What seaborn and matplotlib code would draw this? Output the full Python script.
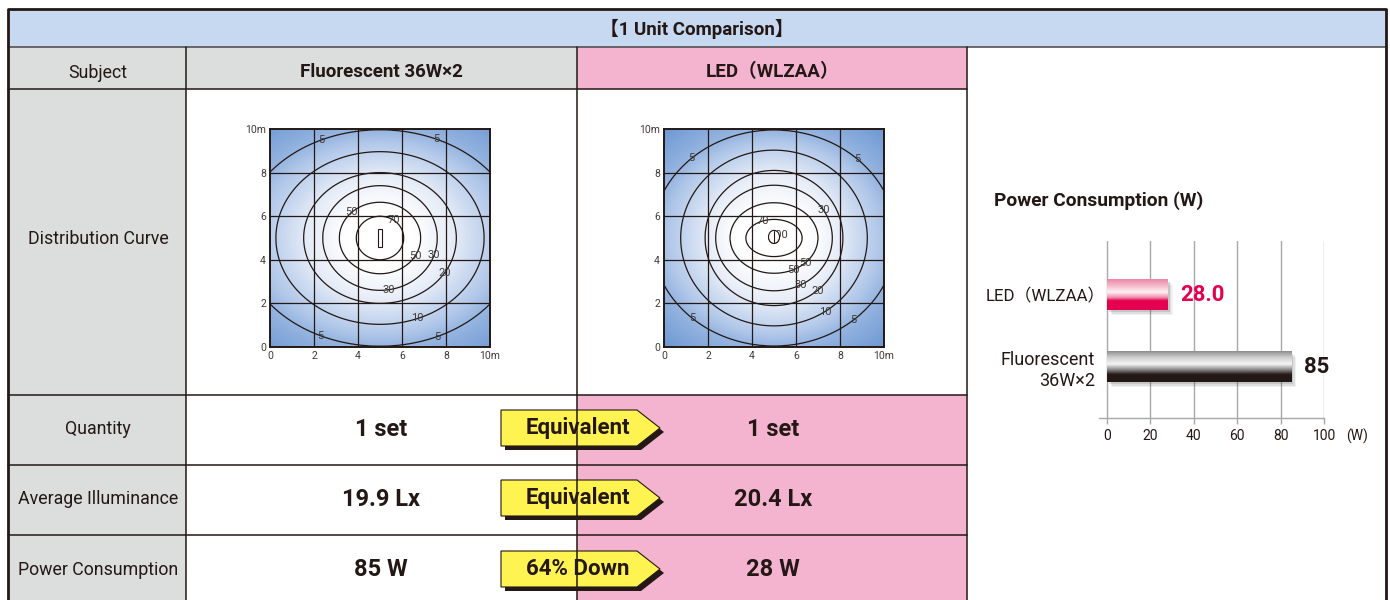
import numpy as np
import pandas as pd
import matplotlib
matplotlib.use('Agg')
import matplotlib.pyplot as plt
import matplotlib.transforms as mtrans
import seaborn as sns
from matplotlib.patches import Rectangle, Polygon, Ellipse
from matplotlib.colors import LinearSegmentedColormap, Normalize


# table contents
title = '【1 Unit Comparison】'
row_labels = ['Subject', 'Distribution Curve', 'Quantity',
              'Average Illuminance', 'Power Consumption']
subjects = ['Fluorescent 36W×2', 'LED（WLZAA）']
quantity = ['1 set', '1 set']
illuminance = [19.9, 20.4]   # Lx
power = [85, 28]             # W
arrow_texts = ['Equivalent', 'Equivalent', '64% Down']

# distribution curves: iso-lux levels and half axes (m)
fl_levels = [70, 50, 30, 20, 10, 5]
fl_half_x = [1.08, 1.85, 2.6, 3.47, 4.73, 6.3]
fl_half_y = [1.0, 1.64, 2.4, 3.0, 3.96, 4.96]
led_levels = [100, 70, 50, 30, 20, 10, 5]
led_half_x = [0.22, 1.28, 2.0, 2.65, 3.13, 4.24, 5.55]
led_half_y = [0.24, 0.85, 1.62, 2.42, 3.1, 4.03, 4.95]
curve_ticks = [0, 2, 4, 6, 8, 10]
curve_ticklabels = ['0', '2', '4', '6', '8', '10m']

# bar chart
bar_title = 'Power Consumption (W)'
bar_names = ['LED（WLZAA）', 'Fluorescent\n36W×2']
bar_watts = [28.0, 85]
bar_texts = ['28.0', '85']
bar_ticks = [0, 20, 40, 60, 80, 100]

INK = '#231815'
PINK = '#f4b4cf'
GRAY = '#dcdddd'
BLUE = '#c6d9f0'


def lux_field(levels, half_x, half_y, n=301):
    g = np.linspace(0, 10, n)
    X, Y = np.meshgrid(g, g)
    dx, dy = X - 5, Y - 5
    r = np.hypot(dx, dy)
    th = np.arctan2(dy, dx)
    a = np.array(half_x)[:, None, None]
    b = np.array(half_y)[:, None, None]
    # radius of every iso-lux ellipse in the direction of each grid point
    ri = a * b / np.sqrt((b * np.cos(th))**2 + (a * np.sin(th))**2)
    lv = np.log(np.array(levels, float))
    ri = np.concatenate([np.zeros((1,) + r.shape), ri, ri[-1:] * 1.5], axis=0)
    lv = np.concatenate([[lv[0] + 0.3], lv, [lv[-1] - 0.9]])
    k = np.clip((ri <= r).sum(axis=0) - 1, 0, len(lv) - 2)
    r0 = np.take_along_axis(ri, k[None], 0)[0]
    r1 = np.take_along_axis(ri, (k + 1)[None], 0)[0]
    t = np.clip((r - r0) / (r1 - r0), 0, None)
    return g, np.exp(lv[k] + t * (lv[k + 1] - lv[k]))


sns.set_theme(style='white')
plt.rcParams['font.family'] = ['Roboto', 'Noto Sans CJK JP', 'DejaVu Sans']
plt.rcParams['text.color'] = INK

W, H = 1390, 600
fig = plt.figure(figsize=(13.9, 6.0), dpi=100)

# ---- table background, in pixel coordinates
bg = fig.add_axes([0, 0, 1, 1])
bg.set_xlim(0, W)
bg.set_ylim(H, 0)
bg.axis('off')

col_x = [8, 186, 577, 967, 1386]
row_y = [47, 89, 395, 465, 535, 600]
bg.add_patch(Rectangle((8, 9), 1378, 38, fc=BLUE, ec='none'))
bg.add_patch(Rectangle((8, 47), 178, 553, fc=GRAY, ec='none'))
bg.add_patch(Rectangle((186, 47), 391, 42, fc=GRAY, ec='none'))
bg.add_patch(Rectangle((577, 47), 390, 42, fc=PINK, ec='none'))
bg.add_patch(Rectangle((577, 395), 390, 205, fc=PINK, ec='none'))

lw_in = 1.1
bg.plot([8, 1386], [47, 47], color='#4a4546', lw=lw_in)
for y in row_y[1:5]:
    bg.plot([8, 967], [y, y], color=INK, lw=lw_in)
for x in col_x[1:4]:
    bg.plot([x, x], [47, 600], color=INK, lw=lw_in)
bg.plot([8, 8, 1386, 1386], [600, 9, 9, 600], color=INK, lw=2.0)

bg.text(697, 29, title, ha='center', va='center', fontsize=13.5,
        fontweight='bold')
centers_y = [72, 238, 428, 498, 569]
for lab, y in zip(row_labels, centers_y):
    bg.text(98, y + 1, lab, ha='center', va='center', fontsize=12.8)
col_cx = [381, 773]
for i, s in enumerate(subjects):
    bg.text(col_cx[i], 72, s, ha='center', va='center', fontsize=13.5,
            fontweight='bold')
    vals = [quantity[i], f'{illuminance[i]} Lx', f'{power[i]} W']
    for v, y in zip(vals, centers_y[2:]):
        bg.text(col_cx[i], y + 1, v, ha='center', va='center', fontsize=17,
                fontweight='bold')

# arrows between the two columns
for txt, yc in zip(arrow_texts, centers_y[2:]):
    pts = np.array([(501, yc - 18), (637, yc - 18), (660, yc),
                    (637, yc + 18), (501, yc + 18)])
    bg.add_patch(Polygon(pts + [4, 4], closed=True, fc=INK, ec='none'))
    bg.add_patch(Polygon(pts, closed=True, fc='#fff352', ec=INK, lw=0.8))
    bg.text(578, yc, txt, ha='center', va='center', fontsize=16,
            fontweight='bold')

# ---- distribution curves
cmap = LinearSegmentedColormap.from_list(
    'lux', [(0, '#6a96d2'), (0.35, '#b3c9ea'), (0.7, '#e8eef8'), (1, '#ffffff')])
curves = [
    (270, fl_levels, fl_half_x, fl_half_y,
     [(2.3, 9.6), (7.6, 9.6), (3.7, 6.2), (5.6, 5.75), (6.5, 4.26),
      (7.57, 4.19), (7.95, 3.38), (5.4, 2.62), (6.73, 1.25), (2.25, 0.38),
      (7.64, 0.38)]),
    (664, led_levels, led_half_x, led_half_y,
     [(1.22, 8.7), (8.86, 8.67), (4.38, 6.08), (7.3, 6.3), (5.44, 5.28),
      (5.74, 3.86), (6.5, 3.76), (6.28, 2.72), (7.07, 2.46), (7.37, 1.53),
      (1.22, 1.22), (8.63, 1.22)]),
]
for k, (left, levels, hx, hy, lab_pos) in enumerate(curves):
    ax = fig.add_axes([left / W, (H - 347) / H, 220 / W, 218 / H])
    g, E = lux_field(levels, hx, hy)
    ax.imshow(np.log(E), origin='lower', extent=(0, 10, 0, 10), cmap=cmap,
              norm=Normalize(np.log(2.5), np.log(60)), aspect='auto',
              interpolation='bilinear')
    cs = ax.contour(g, g, E, levels=sorted(levels), colors=INK,
                    linewidths=0.9)
    labels = ax.clabel(cs, manual=lab_pos, fmt='%d', fontsize=8,
                       inline=False, colors='#3e3a39')
    for t in labels:
        t.set_rotation(0)
    for v in [2, 4, 6, 8]:
        ax.axvline(v, color=INK, lw=0.9)
        ax.axhline(v, color=INK, lw=0.9)
    if k == 0:
        ax.add_patch(Rectangle((4.93, 4.6), 0.16, 0.8, fc='white', ec=INK,
                               lw=0.8, zorder=5))
    else:
        ax.add_patch(Ellipse((5.0, 5.05), 0.5, 0.6, fc='white', ec=INK,
                             lw=0.8, zorder=5))
        ax.plot([5.0, 5.0], [4.8, 5.3], color=INK, lw=0.8, zorder=6)
    ax.set_xlim(0, 10)
    ax.set_ylim(0, 10)
    ax.set_xticks(curve_ticks, curve_ticklabels)
    ax.set_yticks(curve_ticks, curve_ticklabels)
    ax.tick_params(length=0, pad=3, labelsize=7.5, colors='#3e3a39')
    for sp in ax.spines.values():
        sp.set_visible(True)
        sp.set_color(INK)
        sp.set_linewidth(1.4)

# ---- power consumption bar chart
axb = fig.add_axes([1099 / W, (H - 418) / H, 225 / W, 177 / H])
bar_df = pd.DataFrame({'name': bar_names, 'watts': bar_watts})
sns.barplot(data=bar_df, x='watts', y='name', orient='h', width=0.42,
            color='white', edgecolor='none', ax=axb)
axb.set_xlim(-3.7, 100)
axb.set_ylim(1.71, -0.75)

grads = [
    [(0, '#ec86a4'), (0.2, '#f5b7ca'), (0.42, '#fdf1f5'), (0.6, '#f08aa8'),
     (0.7, '#e5004f'), (1, '#e5004f')],
    [(0, '#8e8e8e'), (0.2, '#cfcfcf'), (0.42, '#f5f5f5'), (0.6, '#8a8a8a'),
     (0.76, INK), (1, INK)],
]
text_colors = ['#e5004f', INK]
for i, p in enumerate(axb.patches):
    x0, y0, w, h = p.get_x(), p.get_y(), p.get_width(), p.get_height()
    for off, al in [(2, 0.18), (3.5, 0.12), (5, 0.08)]:
        tr = mtrans.offset_copy(axb.transData, fig=fig, x=off, y=-off,
                                units='dots')
        axb.add_patch(Rectangle((x0, y0), w, h, fc='#555555', ec='none',
                                alpha=al, transform=tr, zorder=1))
    cm = LinearSegmentedColormap.from_list(f'bar{i}', grads[i])
    grad = np.linspace(0, 1, 100)[:, None]
    axb.imshow(grad, cmap=cm, extent=(x0, x0 + w, y0 + h, y0),
               aspect='auto', origin='upper', zorder=3)
    p.set_visible(False)
    axb.annotate(bar_texts[i], (x0 + w, y0 + h / 2), xytext=(9, 0),
                 textcoords='offset points', ha='left', va='center',
                 fontsize=16, fontweight='bold', color=text_colors[i],
                 zorder=4)
axb.set_xlim(-3.7, 100)
axb.set_ylim(1.71, -0.75)

axb.set_xticks(bar_ticks)
axb.set_xlabel('')
axb.set_ylabel('')
axb.xaxis.grid(True, color='#a8a8a8', lw=1)
axb.set_axisbelow(True)
for s in ['top', 'left', 'right']:
    axb.spines[s].set_visible(False)
axb.spines['bottom'].set_color('#a8a8a8')
axb.spines['bottom'].set_linewidth(1)
axb.tick_params(axis='x', direction='out', length=4, width=1,
                color='#a8a8a8', labelsize=10, pad=4, bottom=True,
                labelcolor=INK)
axb.tick_params(axis='y', length=0, pad=3, labelsize=13, labelcolor=INK)
# the full-width bracket carries trailing space, so nudge the LED label right
led_lab = axb.get_yticklabels()[0]
led_lab.set_fontsize(12.2)
led_lab.set_transform(led_lab.get_transform() +
                      mtrans.ScaledTranslation(10 / 100, 0, fig.dpi_scale_trans))
axb.annotate('(W)', (1, 0), xycoords='axes fraction', xytext=(16, -8),
             textcoords='offset points', ha='left', va='top', fontsize=10)
fig.text(994 / W, 1 - 201 / H, bar_title, ha='left', va='center',
         fontsize=13.8, fontweight='bold')

fig.savefig('out.png', dpi=100)
